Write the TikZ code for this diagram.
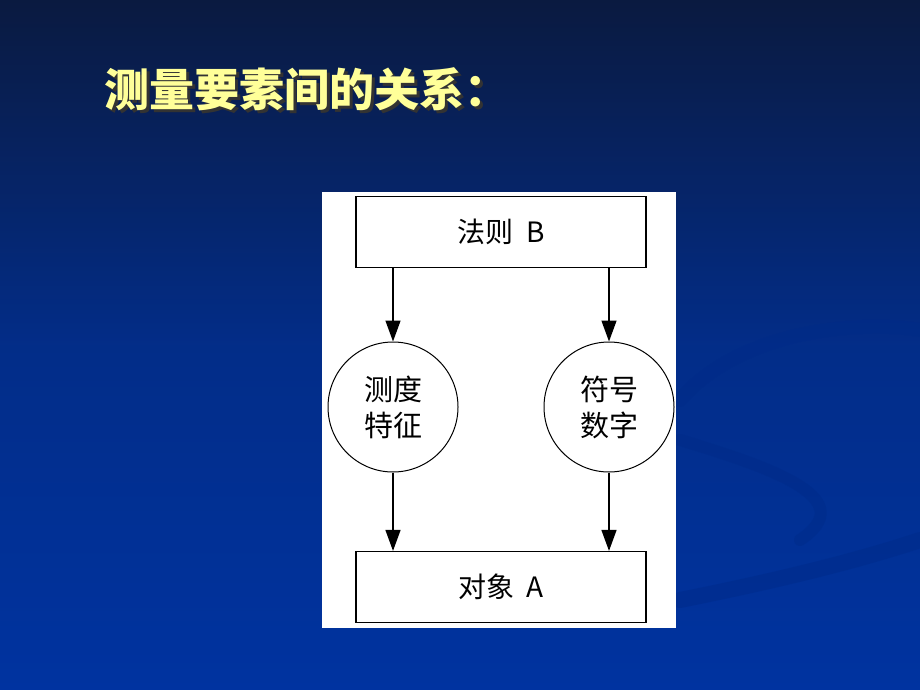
\documentclass[tikz,border=0pt]{standalone}
\usepackage{fontspec}
\newfontfamily\cjk{Noto Sans CJK SC}
\usetikzlibrary{arrows.meta}
\definecolor{slidetop}{HTML}{0A1A40}
\definecolor{slidebot}{HTML}{0033A0}
\definecolor{swirl}{HTML}{002A88}
\definecolor{titleyellow}{HTML}{FFFF99}
\begin{document}
\begin{tikzpicture}[x=1pt, y=-1pt,
		box/.style={draw, line width=1.2pt, minimum width=290pt, minimum height=71pt, font=\cjk\fontsize{28}{30}\selectfont},
		ring/.style={draw, circle, line width=1pt, minimum size=130pt, align=center, font=\cjk\fontsize{29}{36}\selectfont},
		flow/.style={line width=1.4pt, -{Triangle[length=21pt, width=15pt]}}]
		% slide background
		\useasboundingbox (0,0) rectangle (920,690);
		\shade[top color=slidetop, bottom color=slidebot, middle color=slidebot!75!slidetop] (0,0) rectangle (920,690);
		\draw[swirl, line width=14pt, opacity=0.45, line cap=round] (680,400) .. controls (740,330) and (860,320) .. (920,330);
		\draw[swirl, line width=12pt, opacity=0.45, line cap=round] (680,440) .. controls (780,470) and (860,500) .. (800,540);
		\draw[swirl, line width=16pt, opacity=0.45, line cap=round] (680,600) .. controls (780,580) and (860,560) .. (920,540);

		% title
		\node[text=black!80, font=\cjk\bfseries\fontsize{45}{48}\selectfont, anchor=west] (shadow) at (104,92) {测量要素间的关系：};
		\node[text=titleyellow, font=\cjk\bfseries\fontsize{45}{48}\selectfont, anchor=west] (title) at (101,89) {测量要素间的关系：};

		% diagram panel
		\fill[white] (322,192) rectangle (676,628);
		\node[box] (rule) at (501,232) {法则\ \ B};
		\node[ring] (feature) at (393,407) {测度\\特征};
		\node[ring] (symbol) at (609,407) {符号\\数字};
		\node[box] (object) at (501,587) {对象\ \ A};

		\path (rule.south -| feature.north) edge[flow] (feature.north)
		(rule.south -| symbol.north) edge[flow] (symbol.north)
		(feature.south) edge[flow] (object.north -| feature.south)
		(symbol.south) edge[flow] (object.north -| symbol.south);
	\end{tikzpicture}
\end{document}
